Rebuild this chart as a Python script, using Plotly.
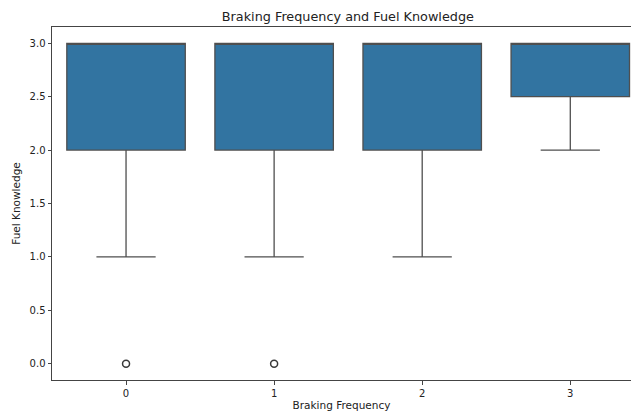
import plotly.graph_objects as go

categories = [0, 1, 2, 3]
q1 = [2.0, 2.0, 2.0, 2.5]
median = [3.0, 3.0, 3.0, 3.0]
q3 = [3.0, 3.0, 3.0, 3.0]
lower_whisker = [1.0, 1.0, 1.0, 2.0]
upper_whisker = [3.0, 3.0, 3.0, 3.0]
outlier_x = [0, 1]
outlier_y = [0.0, 0.0]

fig = go.Figure()
fig.add_trace(go.Box(
    x=categories, q1=q1, median=median, q3=q3,
    lowerfence=lower_whisker, upperfence=upper_whisker,
    width=0.8, whiskerwidth=0.5,
    fillcolor="#3274A1", line=dict(color="#4f4f4f", width=1.3),
    boxpoints=False, showlegend=False, hoverinfo="skip",
))
fig.add_trace(go.Scatter(
    x=outlier_x, y=outlier_y, mode="markers",
    marker=dict(symbol="circle-open", size=7, color="#3a3a3a", line=dict(width=1.5, color="#3a3a3a")),
    showlegend=False, hoverinfo="skip",
))

font = "DejaVu Sans"
fig.update_layout(
    width=631, height=414,
    margin=dict(l=52, r=0, t=27, b=34),
    paper_bgcolor="white", plot_bgcolor="white",
    font=dict(family=font, size=10, color="#222"),
    title=dict(text="Braking Frequency and Fuel Knowledge", x=0.511, xref="paper",
               xanchor="center", y=1 - 17 / 414, yanchor="middle",
               font=dict(family=font, size=12.8, color="#222")),
)
fig.update_xaxes(
    range=[-0.5, 3.41], tickvals=categories, ticktext=[str(c) for c in categories],
    showgrid=False, zeroline=False, showline=True, linecolor="#444", linewidth=1,
    mirror=True, ticks="outside", ticklen=3.5, tickcolor="#444",
    title=dict(text="Braking Frequency", standoff=4, font=dict(size=10.5)),
)
fig.update_yaxes(
    range=[-0.153, 3.153], tickvals=[0, 0.5, 1, 1.5, 2, 2.5, 3],
    ticktext=["0.0", "0.5", "1.0", "1.5", "2.0", "2.5", "3.0"],
    showgrid=False, zeroline=False, showline=True, linecolor="#444", linewidth=1,
    ticks="outside", ticklen=3.5, tickcolor="#444",
    title=dict(text="Fuel Knowledge", standoff=6, font=dict(size=10.5)),
)
fig.write_html(
    "out.html",
    config={"displayModeBar": False},
    post_script="document.body.style.margin='0';document.body.style.overflow='hidden';",
)
